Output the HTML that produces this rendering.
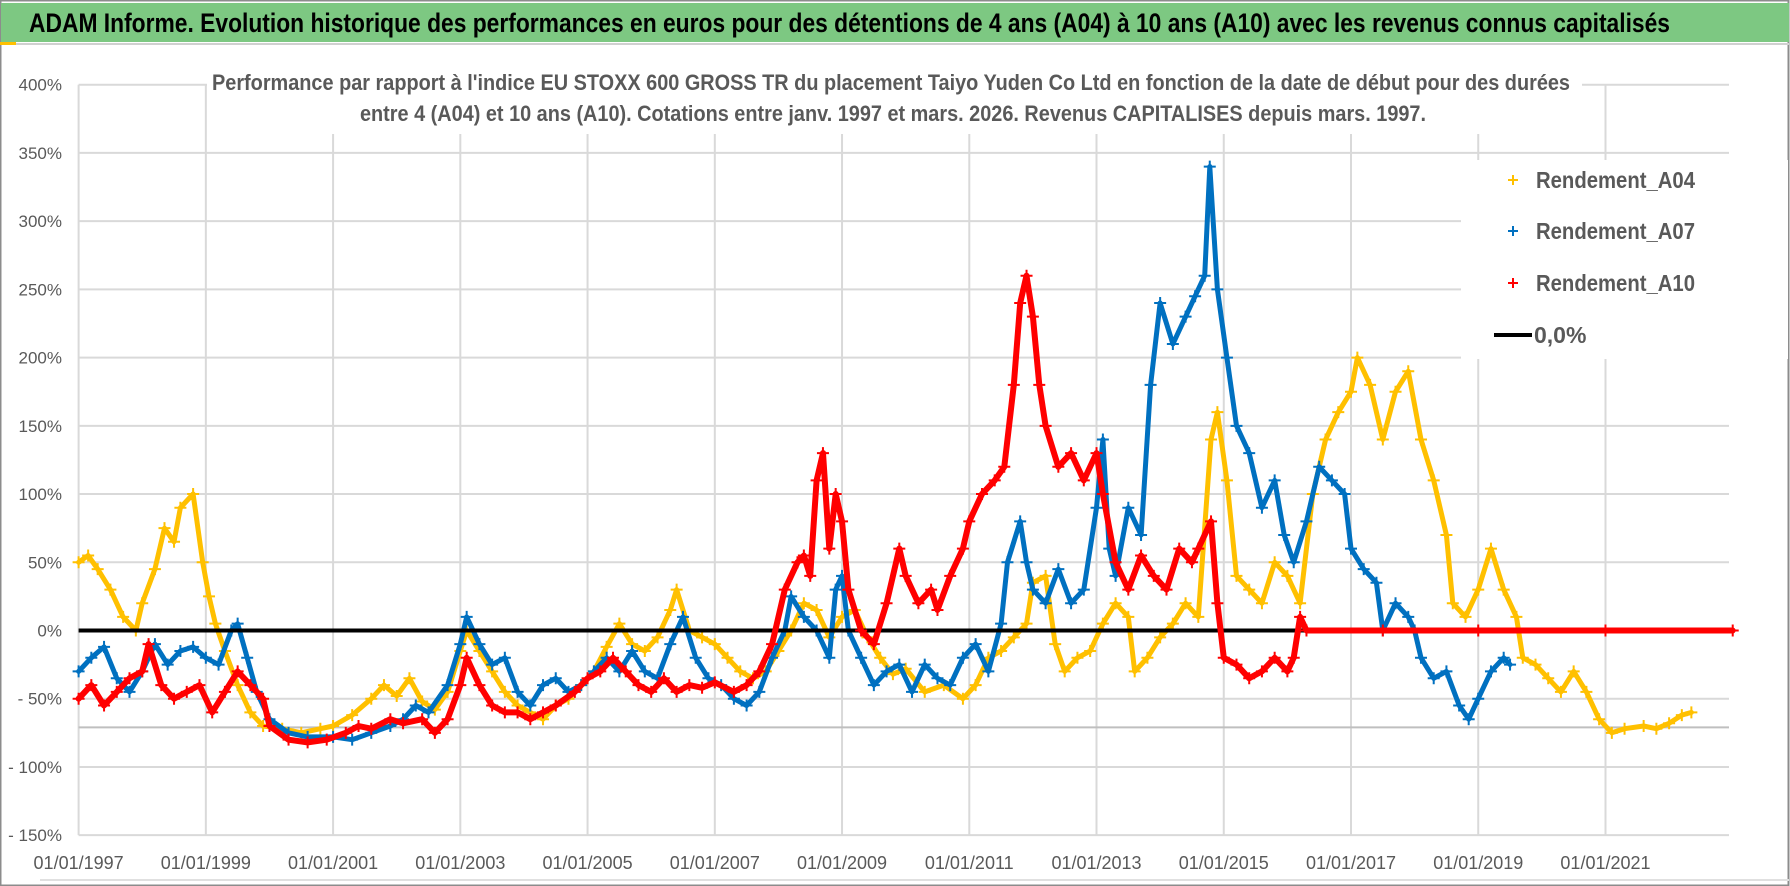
<!DOCTYPE html>
<html><head><meta charset="utf-8">
<style>
html,body{margin:0;padding:0;background:#fff;}
body{width:1790px;height:886px;overflow:hidden;}
svg{display:block;}
text{font-family:"Liberation Sans Narrow","Liberation Sans",sans-serif;}
</style></head>
<body>
<svg id="chart" width="1790" height="886" viewBox="0 0 1790 886">
  <rect x="0" y="0" width="1790" height="886" fill="#fff"/>
  <rect x="0.5" y="0.5" width="1788" height="885" fill="none" stroke="#8c8c8c" stroke-width="2"/>
  <rect x="1" y="3" width="1788" height="39" fill="#7dc882"/>
  <text x="29" y="32" font-size="27" font-weight="bold" fill="#000" textLength="1641" lengthAdjust="spacingAndGlyphs">ADAM Informe. Evolution historique des performances en euros pour des détentions de 4 ans (A04) à 10 ans (A10) avec les revenus connus capitalisés</text>
  <line x1="1" y1="44" x2="1789" y2="44" stroke="#d0d0d0" stroke-width="2"/>
  <rect x="0" y="42" width="16" height="3" fill="#ffc000"/>
  <g id="grid"></g>
  <g id="series"></g>
  <g id="overlay"></g>
  <g id="axes"></g>
</svg>
<script>
// ---- data ----
const yTicks = [400,350,300,250,200,150,100,50,0,-50,-100,-150];
const yTickLabels = ["400%","350%","300%","250%","200%","150%","100%","50%","0%","- 50%","- 100%","- 150%"];
const xTickYears = [1997,1999,2001,2003,2005,2007,2009,2011,2013,2015,2017,2019,2021];
const xTickLabels = ["01/01/1997","01/01/1999","01/01/2001","01/01/2003","01/01/2005","01/01/2007","01/01/2009","01/01/2011","01/01/2013","01/01/2015","01/01/2017","01/01/2019","01/01/2021"];
const refLineValue = -71;
const zeroLineEnd = 2016.3;

const a04Dates = [1997.0,1997.15,1997.3,1997.5,1997.7,1997.9,1998.0,1998.2,1998.35,1998.5,1998.6,1998.8,1998.95,1999.05,1999.15,1999.3,1999.5,1999.7,1999.9,2000.2,2000.5,2000.8,2001.0,2001.3,2001.6,2001.8,2002.0,2002.2,2002.4,2002.6,2002.8,2003.0,2003.1,2003.3,2003.5,2003.7,2003.9,2004.1,2004.3,2004.5,2004.7,2004.9,2005.1,2005.3,2005.5,2005.7,2005.9,2006.1,2006.3,2006.4,2006.6,2006.8,2007.0,2007.2,2007.4,2007.6,2007.8,2008.0,2008.2,2008.4,2008.6,2008.8,2009.0,2009.2,2009.4,2009.6,2009.8,2010.0,2010.3,2010.6,2010.9,2011.1,2011.3,2011.5,2011.7,2011.9,2012.0,2012.2,2012.35,2012.5,2012.7,2012.9,2013.1,2013.3,2013.5,2013.6,2013.8,2014.0,2014.2,2014.4,2014.6,2014.8,2014.9,2015.05,2015.2,2015.4,2015.6,2015.8,2016.0,2016.2,2016.4,2016.6,2016.8,2017.0,2017.1,2017.3,2017.5,2017.7,2017.9,2018.1,2018.3,2018.5,2018.6,2018.8,2019.0,2019.2,2019.4,2019.6,2019.7,2019.9,2020.1,2020.3,2020.5,2020.7,2020.9,2021.1,2021.3,2021.6,2021.8,2022.0,2022.2,2022.35];
const a04Values = [50,55,45,30,10,0,20,45,75,65,90,100,50,25,5,-15,-40,-60,-70,-72,-75,-72,-70,-62,-50,-40,-48,-35,-52,-58,-45,-15,0,-15,-30,-45,-55,-60,-65,-55,-50,-40,-30,-12,5,-10,-15,-5,15,30,0,-5,-10,-20,-30,-35,-30,-15,0,20,15,-5,10,15,-5,-20,-32,-28,-45,-40,-50,-40,-20,-15,-5,5,35,40,-10,-30,-20,-15,5,20,10,-30,-20,-5,5,20,10,140,160,110,40,30,20,50,40,20,100,140,160,175,200,180,140,175,190,140,110,70,20,10,30,60,30,10,-20,-25,-35,-45,-30,-45,-65,-75,-72,-70,-72,-68,-62,-60];

const a07Dates = [1997.0,1997.2,1997.4,1997.6,1997.8,1998.0,1998.2,1998.4,1998.6,1998.8,1999.0,1999.2,1999.4,1999.5,1999.65,1999.8,2000.0,2000.3,2000.6,2001.0,2001.3,2001.6,2001.9,2002.1,2002.3,2002.5,2002.8,2003.0,2003.1,2003.3,2003.5,2003.7,2003.9,2004.1,2004.3,2004.5,2004.7,2004.9,2005.1,2005.3,2005.5,2005.7,2005.9,2006.1,2006.3,2006.5,2006.7,2006.9,2007.1,2007.3,2007.5,2007.7,2007.9,2008.1,2008.2,2008.4,2008.6,2008.8,2008.9,2009.0,2009.1,2009.3,2009.5,2009.7,2009.9,2010.1,2010.3,2010.5,2010.7,2010.9,2011.1,2011.3,2011.5,2011.6,2011.8,2011.9,2012.0,2012.2,2012.4,2012.6,2012.8,2013.0,2013.1,2013.2,2013.3,2013.5,2013.7,2013.85,2014.0,2014.2,2014.4,2014.55,2014.7,2014.78,2014.9,2015.05,2015.2,2015.4,2015.6,2015.8,2015.95,2016.1,2016.3,2016.5,2016.7,2016.9,2017.0,2017.2,2017.4,2017.5,2017.7,2017.9,2018.0,2018.1,2018.3,2018.5,2018.7,2018.85,2019.0,2019.2,2019.4,2019.5];
const a07Values = [-30,-20,-12,-35,-45,-30,-10,-25,-15,-12,-20,-25,0,5,-20,-45,-65,-75,-78,-78,-80,-75,-70,-65,-55,-60,-40,-10,10,-10,-25,-20,-45,-55,-40,-35,-45,-40,-30,-20,-30,-15,-30,-35,-10,10,-20,-35,-40,-50,-55,-45,-20,0,25,10,0,-20,30,40,0,-20,-40,-30,-25,-45,-25,-35,-40,-20,-10,-30,5,50,80,50,30,20,45,20,30,90,140,60,40,90,70,180,240,210,230,245,260,340,250,200,150,130,90,110,70,50,80,120,110,100,60,45,35,0,20,10,0,-20,-35,-30,-55,-65,-50,-30,-20,-25];

const a10Dates = [1997.0,1997.2,1997.4,1997.6,1997.8,1998.0,1998.1,1998.3,1998.5,1998.7,1998.9,1999.1,1999.3,1999.5,1999.7,1999.9,2000.0,2000.3,2000.6,2000.9,2001.2,2001.4,2001.6,2001.9,2002.1,2002.4,2002.6,2002.8,2003.0,2003.1,2003.3,2003.5,2003.7,2003.9,2004.1,2004.3,2004.5,2004.8,2005.0,2005.2,2005.4,2005.6,2005.8,2006.0,2006.2,2006.4,2006.6,2006.8,2007.0,2007.3,2007.5,2007.7,2007.9,2008.1,2008.3,2008.4,2008.5,2008.6,2008.7,2008.8,2008.9,2009.0,2009.1,2009.3,2009.5,2009.7,2009.9,2010.0,2010.2,2010.4,2010.5,2010.7,2010.9,2011.0,2011.2,2011.4,2011.55,2011.7,2011.8,2011.9,2012.0,2012.1,2012.2,2012.4,2012.6,2012.8,2013.0,2013.1,2013.3,2013.5,2013.7,2013.9,2014.1,2014.3,2014.5,2014.6,2014.8,2014.9,2015.0,2015.2,2015.4,2015.6,2015.8,2016.0,2016.1,2016.2,2016.3,2017.5,2019.0,2021.0,2023.0];
const a10Values = [-50,-40,-55,-45,-35,-30,-10,-40,-50,-45,-40,-60,-45,-30,-40,-50,-70,-80,-82,-80,-75,-70,-72,-65,-68,-65,-75,-65,-40,-20,-40,-55,-60,-60,-65,-60,-55,-45,-35,-30,-20,-30,-40,-45,-35,-45,-40,-42,-38,-45,-40,-30,-10,30,50,55,40,110,130,60,100,80,30,0,-10,20,60,40,20,30,15,40,60,80,100,110,120,180,240,260,230,180,150,120,130,110,130,100,50,30,55,40,30,60,50,60,80,20,-20,-25,-35,-30,-20,-30,-20,10,0,0,0,0,0];

// ---- axes ----
const X0 = 78.6, PX_PER_YEAR = 63.62, PLOT_RIGHT = 1729;
const Y0 = 630.5, PX_PER_PCT = 1.3645;
function xScale(year){ return X0 + (year - 1997) * PX_PER_YEAR; }
function yScale(v){ return Y0 - v * PX_PER_PCT; }
const NS = "http://www.w3.org/2000/svg";
function mk(tag, attrs, parent){
  const e = document.createElementNS(NS, tag);
  for (const k in attrs) e.setAttribute(k, attrs[k]);
  parent.appendChild(e);
  return e;
}
const grid = document.getElementById('grid');
const series = document.getElementById('series');
const overlay = document.getElementById('overlay');
const axes = document.getElementById('axes');
const plotTop = yScale(400), plotBottom = yScale(-150);

yTicks.forEach((v, i) => {
  const gl = mk('line', {x1: X0, x2: PLOT_RIGHT, y1: yScale(v), y2: yScale(v), stroke: '#d9d9d9', 'stroke-width': 2}, grid);
  
  
  const t = mk('text', {x: 62, y: yScale(v) + 6, 'text-anchor': 'end', 'font-size': 17, fill: '#595959'}, axes);
  t.textContent = yTickLabels[i];
  
  
});
xTickYears.forEach((yr, i) => {
  const gl = mk('line', {x1: xScale(yr), x2: xScale(yr), y1: plotTop, y2: plotBottom, stroke: '#d9d9d9', 'stroke-width': 2}, grid);
  
  
  const t = mk('text', {x: xScale(yr), y: 869, 'text-anchor': 'middle', 'font-size': 18, fill: '#595959'}, axes);
  t.textContent = xTickLabels[i];
  
  
});
const refL = mk('line', {x1: X0, x2: PLOT_RIGHT, y1: yScale(refLineValue), y2: yScale(refLineValue), stroke: '#bfbfbf', 'stroke-width': 2}, grid);


const bl = mk('line', {x1: 40, x2: 1789, y1: 880, y2: 880, stroke: '#e0e0e0', 'stroke-width': 2}, axes);



function drawSeries(dates, values, color, name, width){
  const g = mk('g', {}, series);
  
  
  const pts = dates.map((d, i) => xScale(d).toFixed(1) + ',' + yScale(values[i]).toFixed(1)).join(' ');
  const pl = mk('polyline', {points: pts, fill: 'none', stroke: color, 'stroke-width': width, 'stroke-linejoin': 'round', 'stroke-linecap': 'round'}, g);
  
  
  dates.forEach((d, i) => {
    const x = xScale(d), y = yScale(values[i]);
    const m = mk('path', {d: `M${x-6},${y}H${x+6}M${x},${y-6}V${y+6}`, stroke: color, 'stroke-width': 2}, g);
    
    
  });
}
drawSeries(a04Dates, a04Values, '#ffc000', 'series-a04', 5);
drawSeries(a07Dates, a07Values, '#0070c0', 'series-a07', 5);
const zl = mk('line', {x1: X0, x2: xScale(zeroLineEnd), y1: yScale(0), y2: yScale(0), stroke: '#000', 'stroke-width': 4}, series);


drawSeries(a10Dates, a10Values, '#ff0000', 'series-a10', 6);

// subtitle box
const sb = mk('rect', {x: 207, y: 62, width: 1375, height: 72, fill: '#fff'}, overlay);


const s1 = mk('text', {x: 212, y: 90, 'font-size': 22, 'font-weight': 'bold', fill: '#595959', textLength: 1358, lengthAdjust: 'spacingAndGlyphs'}, overlay);
s1.textContent = "Performance par rapport à l'indice EU STOXX 600 GROSS TR  du placement Taiyo Yuden Co Ltd en fonction de la date de début pour des durées";


const s2 = mk('text', {x: 360, y: 121, 'font-size': 22, 'font-weight': 'bold', fill: '#595959', textLength: 1066, lengthAdjust: 'spacingAndGlyphs'}, overlay);
s2.textContent = "entre 4 (A04) et 10 ans (A10).  Cotations entre janv. 1997 et mars. 2026.  Revenus CAPITALISES depuis mars. 1997.";



// legend
const lb = mk('rect', {x: 1461, y: 160, width: 327, height: 199, fill: '#fff'}, overlay);


const legendNames = ["Rendement_A04","Rendement_A07","Rendement_A10"];
const legendColors = ['#ffc000','#0070c0','#ff0000'];
const legendY = [180, 231, 283];
legendNames.forEach((n, i) => {
  const y = legendY[i];
  const m = mk('path', {d: `M1508,${y}H1518M1513,${y-5}V${y+5}`, stroke: legendColors[i], 'stroke-width': 2}, overlay);
  
  
  const t = mk('text', {x: 1536, y: y + 8, 'font-size': 23, 'font-weight': 'bold', fill: '#595959', textLength: 159, lengthAdjust: 'spacingAndGlyphs'}, overlay);
  t.textContent = n;
  
  
});
const ll = mk('line', {x1: 1494, x2: 1532, y1: 335, y2: 335, stroke: '#000', 'stroke-width': 4}, overlay);


const lt = mk('text', {x: 1534, y: 343, 'font-size': 23, 'font-weight': 'bold', fill: '#595959'}, overlay);
lt.textContent = "0,0%";


</script>
</body></html>
